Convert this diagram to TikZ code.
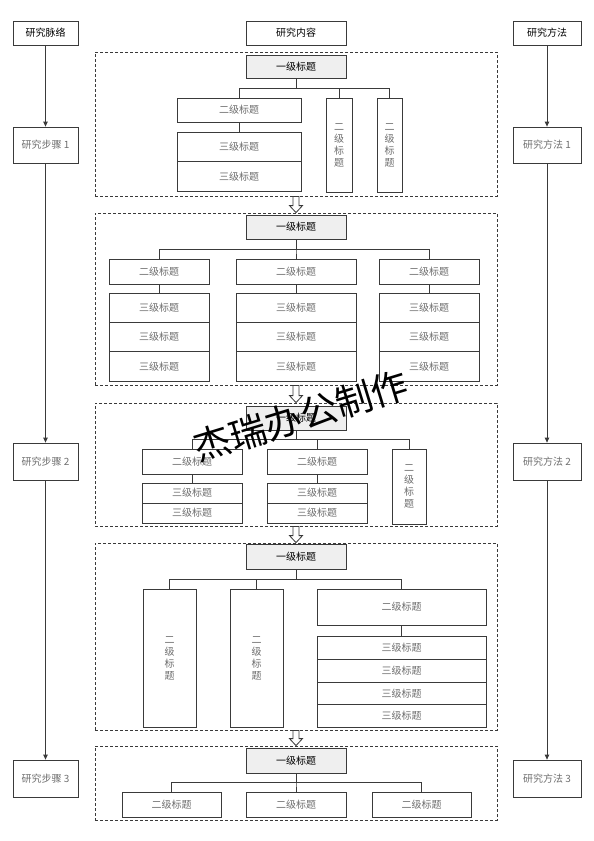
\documentclass[tikz,border=0pt]{standalone}
\usepackage{fontspec}
\setmainfont{Noto Sans CJK SC}
\newfontfamily\wmfont{Noto Sans CJK SC}
\usetikzlibrary{calc,arrows.meta}
\definecolor{linec}{HTML}{3A3A3A}
\definecolor{txtgray}{HTML}{6E6E6E}
\definecolor{fillgray}{HTML}{EFEFEF}
\newcommand\mkbox[7]{\node[#1, minimum width={(#5)-(#3)}, minimum height={(#6)-(#4)}] (#2) at ({((#3)+(#5))/2},{((#4)+(#6))/2}) {#7};}
\newcommand\treelink[3]{\draw[link] (#1.south) -- ++(0,#3) -| (#2.north);}
\newcommand\harr[2]{\path[harrowsty] let \p1=(#1.south), \p2=(#2.north) in (\x1-3pt,\y1) -- (\x1+3pt,\y1) -- (\x1+3pt,\y2+7pt) -- (\x1+6.5pt,\y2+7pt) -- (\x1,\y2) -- (\x1-6.5pt,\y2+7pt) -- (\x1-3pt,\y2+7pt) -- cycle;}
\tikzset{
  box/.style={draw=linec, line width=0.8pt, inner sep=0pt, font=\fontsize{10}{12}\selectfont, text=txtgray, align=center},
  hdr/.style={box, text=black},
  lvl1/.style={box, fill=fillgray, text=black},
  cont/.style={draw=linec, dash pattern=on 3pt off 2pt, line width=0.8pt, inner sep=0pt},
  link/.style={draw=linec, line width=0.8pt},
  flow/.style={link, -{Triangle[length=5pt,width=4.5pt]}},
  harrowsty/.style={draw=linec, line width=0.8pt, fill=white},
}
\begin{document}
\begin{tikzpicture}[x=1pt,y=-1pt]
\useasboundingbox (0,0) rectangle (594,841);
% side columns
\mkbox{hdr}{h1}{13}{21}{78}{45}{研究脉络}
\mkbox{hdr}{h2}{246}{21}{346}{45}{研究内容}
\mkbox{hdr}{h3}{513}{21}{581}{45}{研究方法}
\mkbox{box}{s1}{13}{127}{78}{163}{研究步骤 1}
\mkbox{box}{s2}{13}{443}{78}{480}{研究步骤 2}
\mkbox{box}{s3}{13}{760}{78}{797}{研究步骤 3}
\mkbox{box}{m1}{513}{127}{581}{163}{研究方法 1}
\mkbox{box}{m2}{513}{443}{581}{480}{研究方法 2}
\mkbox{box}{m3}{513}{760}{581}{797}{研究方法 3}
\draw[flow] (h1.south) -- (s1.north);
\draw[flow] (s1.south) -- (s2.north);
\draw[flow] (s2.south) -- (s3.north);
\draw[flow] (h3.south) -- (m1.north);
\draw[flow] (m1.south) -- (m2.north);
\draw[flow] (m2.south) -- (m3.north);
% containers
\mkbox{cont}{c1}{95}{52}{497}{196}{}
\mkbox{cont}{c2}{95}{213}{497}{385}{}
\mkbox{cont}{c3}{95}{403}{497}{526}{}
\mkbox{cont}{c4}{95}{543}{497}{730}{}
\mkbox{cont}{c5}{95}{746}{497}{820}{}
\harr{c1}{c2}
\harr{c2}{c3}
\harr{c3}{c4}
\harr{c4}{c5}
% section 1
\mkbox{lvl1}{t1}{246}{55}{346}{78}{一级标题}
\mkbox{box}{a}{177}{98}{301}{122}{二级标题}
\mkbox{box}{a1}{177}{132}{301}{161.5}{三级标题}
\mkbox{box}{a2}{177}{161.5}{301}{191}{三级标题}
\mkbox{box}{av1}{326}{98}{352}{192}{二\\级\\标\\题}
\mkbox{box}{av2}{377}{98}{402}{192}{二\\级\\标\\题}
\treelink{t1}{a}{10}
\treelink{t1}{av1}{10}
\treelink{t1}{av2}{10}
\draw[link] (a.south) -- (a1.north);
% section 2
\mkbox{lvl1}{t2}{246}{215}{346}{239}{一级标题}
\mkbox{box}{b1}{109}{259}{209}{284}{二级标题}
\mkbox{box}{b2}{236}{259}{356}{284}{二级标题}
\mkbox{box}{b3}{379}{259}{479}{284}{二级标题}
\treelink{t2}{b1}{10}
\treelink{t2}{b2}{10}
\treelink{t2}{b3}{10}
\mkbox{box}{b1a}{109}{293}{209}{322.3}{三级标题}
\mkbox{box}{b1b}{109}{322.3}{209}{351.7}{三级标题}
\mkbox{box}{b1c}{109}{351.7}{209}{381}{三级标题}
\mkbox{box}{b2a}{236}{293}{356}{322.3}{三级标题}
\mkbox{box}{b2b}{236}{322.3}{356}{351.7}{三级标题}
\mkbox{box}{b2c}{236}{351.7}{356}{381}{三级标题}
\mkbox{box}{b3a}{379}{293}{479}{322.3}{三级标题}
\mkbox{box}{b3b}{379}{322.3}{479}{351.7}{三级标题}
\mkbox{box}{b3c}{379}{351.7}{479}{381}{三级标题}
\draw[link] (b1.south) -- (b1a.north);
\draw[link] (b2.south) -- (b2a.north);
\draw[link] (b3.south) -- (b3a.north);
% section 3
\mkbox{lvl1}{t3}{246}{406}{346}{430}{一级标题}
\mkbox{box}{g1}{142}{449}{242}{474}{二级标题}
\mkbox{box}{g2}{267}{449}{367}{474}{二级标题}
\mkbox{box}{gv}{392}{449}{426}{524}{二\\级\\标\\题}
\treelink{t3}{g1}{9}
\treelink{t3}{g2}{9}
\treelink{t3}{gv}{9}
\mkbox{box}{g1a}{142}{483}{242}{503}{三级标题}
\mkbox{box}{g1b}{142}{503}{242}{523}{三级标题}
\mkbox{box}{g2a}{267}{483}{367}{503}{三级标题}
\mkbox{box}{g2b}{267}{503}{367}{523}{三级标题}
\draw[link] (g1.south) -- (g1a.north);
\draw[link] (g2.south) -- (g2a.north);
% section 4
\mkbox{lvl1}{t4}{246}{544}{346}{569}{一级标题}
\mkbox{box}{d1}{143}{589}{196}{727}{二\\级\\标\\题}
\mkbox{box}{d2}{230}{589}{283}{727}{二\\级\\标\\题}
\mkbox{box}{d3}{317}{589}{486}{625}{二级标题}
\treelink{t4}{d1}{10}
\treelink{t4}{d2}{10}
\treelink{t4}{d3}{10}
\mkbox{box}{d3a}{317}{636.7}{486}{659.4}{三级标题}
\mkbox{box}{d3b}{317}{659.4}{486}{682.1}{三级标题}
\mkbox{box}{d3c}{317}{682.1}{486}{704.8}{三级标题}
\mkbox{box}{d3d}{317}{704.8}{486}{727.5}{三级标题}
\draw[link] (d3.south) -- (d3a.north);
% section 5
\mkbox{lvl1}{t5}{246}{748}{346}{773}{一级标题}
\mkbox{box}{e1}{122}{792}{221}{817}{二级标题}
\mkbox{box}{e2}{246}{792}{346}{817}{二级标题}
\mkbox{box}{e3}{372}{792}{471}{817}{二级标题}
\treelink{t5}{e1}{9}
\treelink{t5}{e2}{9}
\treelink{t5}{e3}{9}
% watermark
\node[rotate=17, font=\wmfont\fontsize{37}{37}\selectfont, text=black, inner sep=0pt] (wm) at (301,416) {杰瑞办公制作};
\end{tikzpicture}
\end{document}
